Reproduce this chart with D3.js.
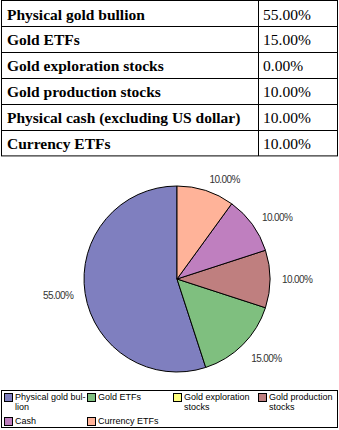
<!DOCTYPE html>
<html>
<head>
<meta charset="utf-8">
<script src="https://cdn.jsdelivr.net/npm/d3@7"></script>
<style>
  html, body { margin: 0; padding: 0; background: #fff; }
  svg { display: block; }
  .serif { font-family: "Liberation Serif", "Tinos", "Times New Roman", Times, "DejaVu Serif", serif; }
  .sans { font-family: "Liberation Sans", Arimo, Arial, Helvetica, sans-serif; }
</style>
</head>
<body>
<svg id="chart" width="339" height="430"></svg>
<script>
// Allocation table
const tableLabels = [
  "Physical gold bullion",
  "Gold ETFs",
  "Gold exploration stocks",
  "Gold production stocks",
  "Physical cash (excluding US dollar)",
  "Currency ETFs"
];
const tableValues = [55, 15, 0, 10, 10, 10];

// Pie series (drawn counter-clockwise from 12 o'clock)
const pieCategories = [
  "Physical gold bullion",
  "Gold ETFs",
  "Gold exploration stocks",
  "Gold production stocks",
  "Cash",
  "Currency ETFs"
];
const pieValues = [55, 15, 0, 10, 10, 10];
const pieColors = ["#7f7fbf", "#7fbf7f", "#ffff7f", "#bf7f7f", "#bf7fbf", "#ffb399"];

// Legend text, already broken into lines
const legendLines = [
  ["Physical gold bul-", "lion"],
  ["Gold ETFs"],
  ["Gold exploration", "stocks"],
  ["Gold production", "stocks"],
  ["Cash"],
  ["Currency ETFs"]
];

const svg = d3.select("#chart");
const fmt = d3.format(".2f");

// ---- table ----
const tbl = { x0: 1.5, x1: 337.5, top: 0.5, rowH: 25.9, split: 258.5 };
const rowY = d3.scaleBand().domain(d3.range(tableLabels.length))
  .range([tbl.top, tbl.top + tbl.rowH * tableLabels.length]).padding(0);

const tg = svg.append("g");
tg.append("rect")
  .attr("x", tbl.x0).attr("y", tbl.top)
  .attr("width", tbl.x1 - tbl.x0).attr("height", rowY.range()[1] - tbl.top)
  .attr("fill", "none").attr("stroke", "#000").attr("stroke-width", 1);
tg.selectAll("line.row").data(d3.range(1, tableLabels.length)).join("line")
  .attr("x1", tbl.x0).attr("x2", tbl.x1)
  .attr("y1", d => Math.round(rowY(d)) + 0.5).attr("y2", d => Math.round(rowY(d)) + 0.5)
  .attr("stroke", "#000");
tg.append("line")
  .attr("x1", tbl.split).attr("x2", tbl.split)
  .attr("y1", tbl.top).attr("y2", rowY.range()[1])
  .attr("stroke", "#000");
tg.selectAll("text.lab").data(tableLabels).join("text")
  .attr("class", "serif")
  .attr("x", 7).attr("y", (d, i) => rowY(i) + 19)
  .attr("font-weight", "bold").attr("font-size", 15.5)
  .attr("fill", "#000")
  .text(d => d);
tg.selectAll("text.val").data(tableValues).join("text")
  .attr("class", "serif")
  .attr("x", 263).attr("y", (d, i) => rowY(i) + 19)
  .attr("font-size", 15.5)
  .attr("fill", "#000")
  .text(d => fmt(d) + "%");

// ---- pie ----
const cx = 177, cy = 279, r = 93, labelR = 105;
const pie = d3.pie().sort(null).value(d => d)
  .startAngle(0).endAngle(-2 * Math.PI);
const arcs = pie(pieValues);
const arc = d3.arc().innerRadius(0).outerRadius(r);

const pg = svg.append("g").attr("transform", `translate(${cx},${cy})`);
pg.selectAll("path").data(arcs.filter(a => a.value > 0)).join("path")
  .attr("d", arc)
  .attr("fill", d => pieColors[d.index])
  .attr("stroke", "#000").attr("stroke-width", 1).attr("stroke-linejoin", "round");

pg.selectAll("text").data(arcs.filter(a => a.value > 0)).join("text")
  .attr("class", "sans")
  .each(function(d) {
    const a = (d.startAngle + d.endAngle) / 2;
    const x = Math.sin(a) * labelR, y = -Math.cos(a) * labelR;
    d3.select(this)
      .attr("x", x).attr("y", y + (y > 40 ? 5 : 0))
      .attr("dy", "0.35em")
      .attr("text-anchor", x >= 0 ? "start" : "end");
  })
  .attr("font-size", 10)
  .attr("letter-spacing", -0.6)
  .attr("fill", "#333")
  .text(d => fmt(d.value) + "%");

// ---- legend ----
const lg = svg.append("g");
lg.append("rect").attr("x", 1.5).attr("y", 390.5).attr("width", 336).attr("height", 37)
  .attr("fill", "#fff").attr("stroke", "#000");
const colX = [4, 87, 173, 258];
const rowTop = [393, 417];
const items = lg.selectAll("g.item").data(pieCategories).join("g")
  .attr("transform", (d, i) => `translate(${colX[i % 4]},${rowTop[Math.floor(i / 4)]})`);
items.append("rect").attr("x", 0.5).attr("y", 0.5).attr("width", 8).attr("height", 8)
  .attr("fill", (d, i) => pieColors[i]).attr("stroke", "#000");
items.append("text")
  .attr("class", "sans")
  .attr("font-size", 9).attr("fill", "#000")
  .selectAll("tspan").data((d, i) => legendLines[i]).join("tspan")
  .attr("x", 11).attr("y", (d, j) => 6.5 + j * 10.5)
  .text(d => d);
</script>
</body>
</html>
